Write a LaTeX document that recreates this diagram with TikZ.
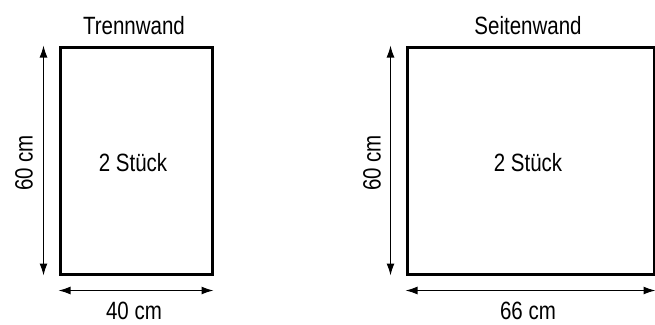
\documentclass[tikz,border=0pt]{standalone}
\usepackage{fontspec}
\newfontfamily\wandfont[FakeStretch=0.82]{Liberation Sans}
\usetikzlibrary{arrows.meta, positioning}

\begin{document}
\begin{tikzpicture}[x=1pt, y=-1pt,
    wand/.style={draw, line width=3pt, inner sep=0pt},
    mass/.style={{Latex[length=12pt,width=8pt]}-{Latex[length=12pt,width=8pt]}, line width=1.2pt},
    every node/.style={font=\wandfont\fontsize{25}{28}\selectfont, inner sep=0pt}]

            \useasboundingbox (0,0) rectangle (655,324);

            % Define the offset of the dimension lines
            \def\abstand{15}

            % Trennwand
            \node[wand, minimum width=152pt, minimum height=227pt] (trenn) at (136,160.5) {};
            \node at (133,163) (trennstk) {2 Stück};
            \node at (134,26) (trenntitel) {Trennwand};
            \coordinate (th1) at ([xshift=-\abstand pt]trenn.north west);
            \coordinate (th2) at ([xshift=-\abstand pt]trenn.south west);
            \coordinate (tb1) at ([yshift=-\abstand pt]trenn.south west);
            \coordinate (tb2) at ([yshift=-\abstand pt]trenn.south east);
            \draw[mass] (th1) -- (th2);
            \draw[mass] (tb1) -- (tb2);
            \node at (24,163) [rotate=90] (trennhoehe) {60 cm};
            \node at (134,311) (trennbreite) {40 cm};

            % Seitenwand
            \node[wand, minimum width=247pt, minimum height=227pt] (seite) at (530.5,160.5) {};
            \node at (528,163) (seitestk) {2 Stück};
            \node at (528,26) (seitetitel) {Seitenwand};
            \coordinate (sh1) at ([xshift=-\abstand pt]seite.north west);
            \coordinate (sh2) at ([xshift=-\abstand pt]seite.south west);
            \coordinate (sb1) at ([yshift=-\abstand pt]seite.south west);
            \coordinate (sb2) at ([yshift=-\abstand pt]seite.south east);
            \draw[mass] (sh1) -- (sh2);
            \draw[mass] (sb1) -- (sb2);
            \node at (372,163) [rotate=90] (seitehoehe) {60 cm};
            \node at (528,311) (seitebreite) {66 cm};

        \end{tikzpicture}
\end{document}
